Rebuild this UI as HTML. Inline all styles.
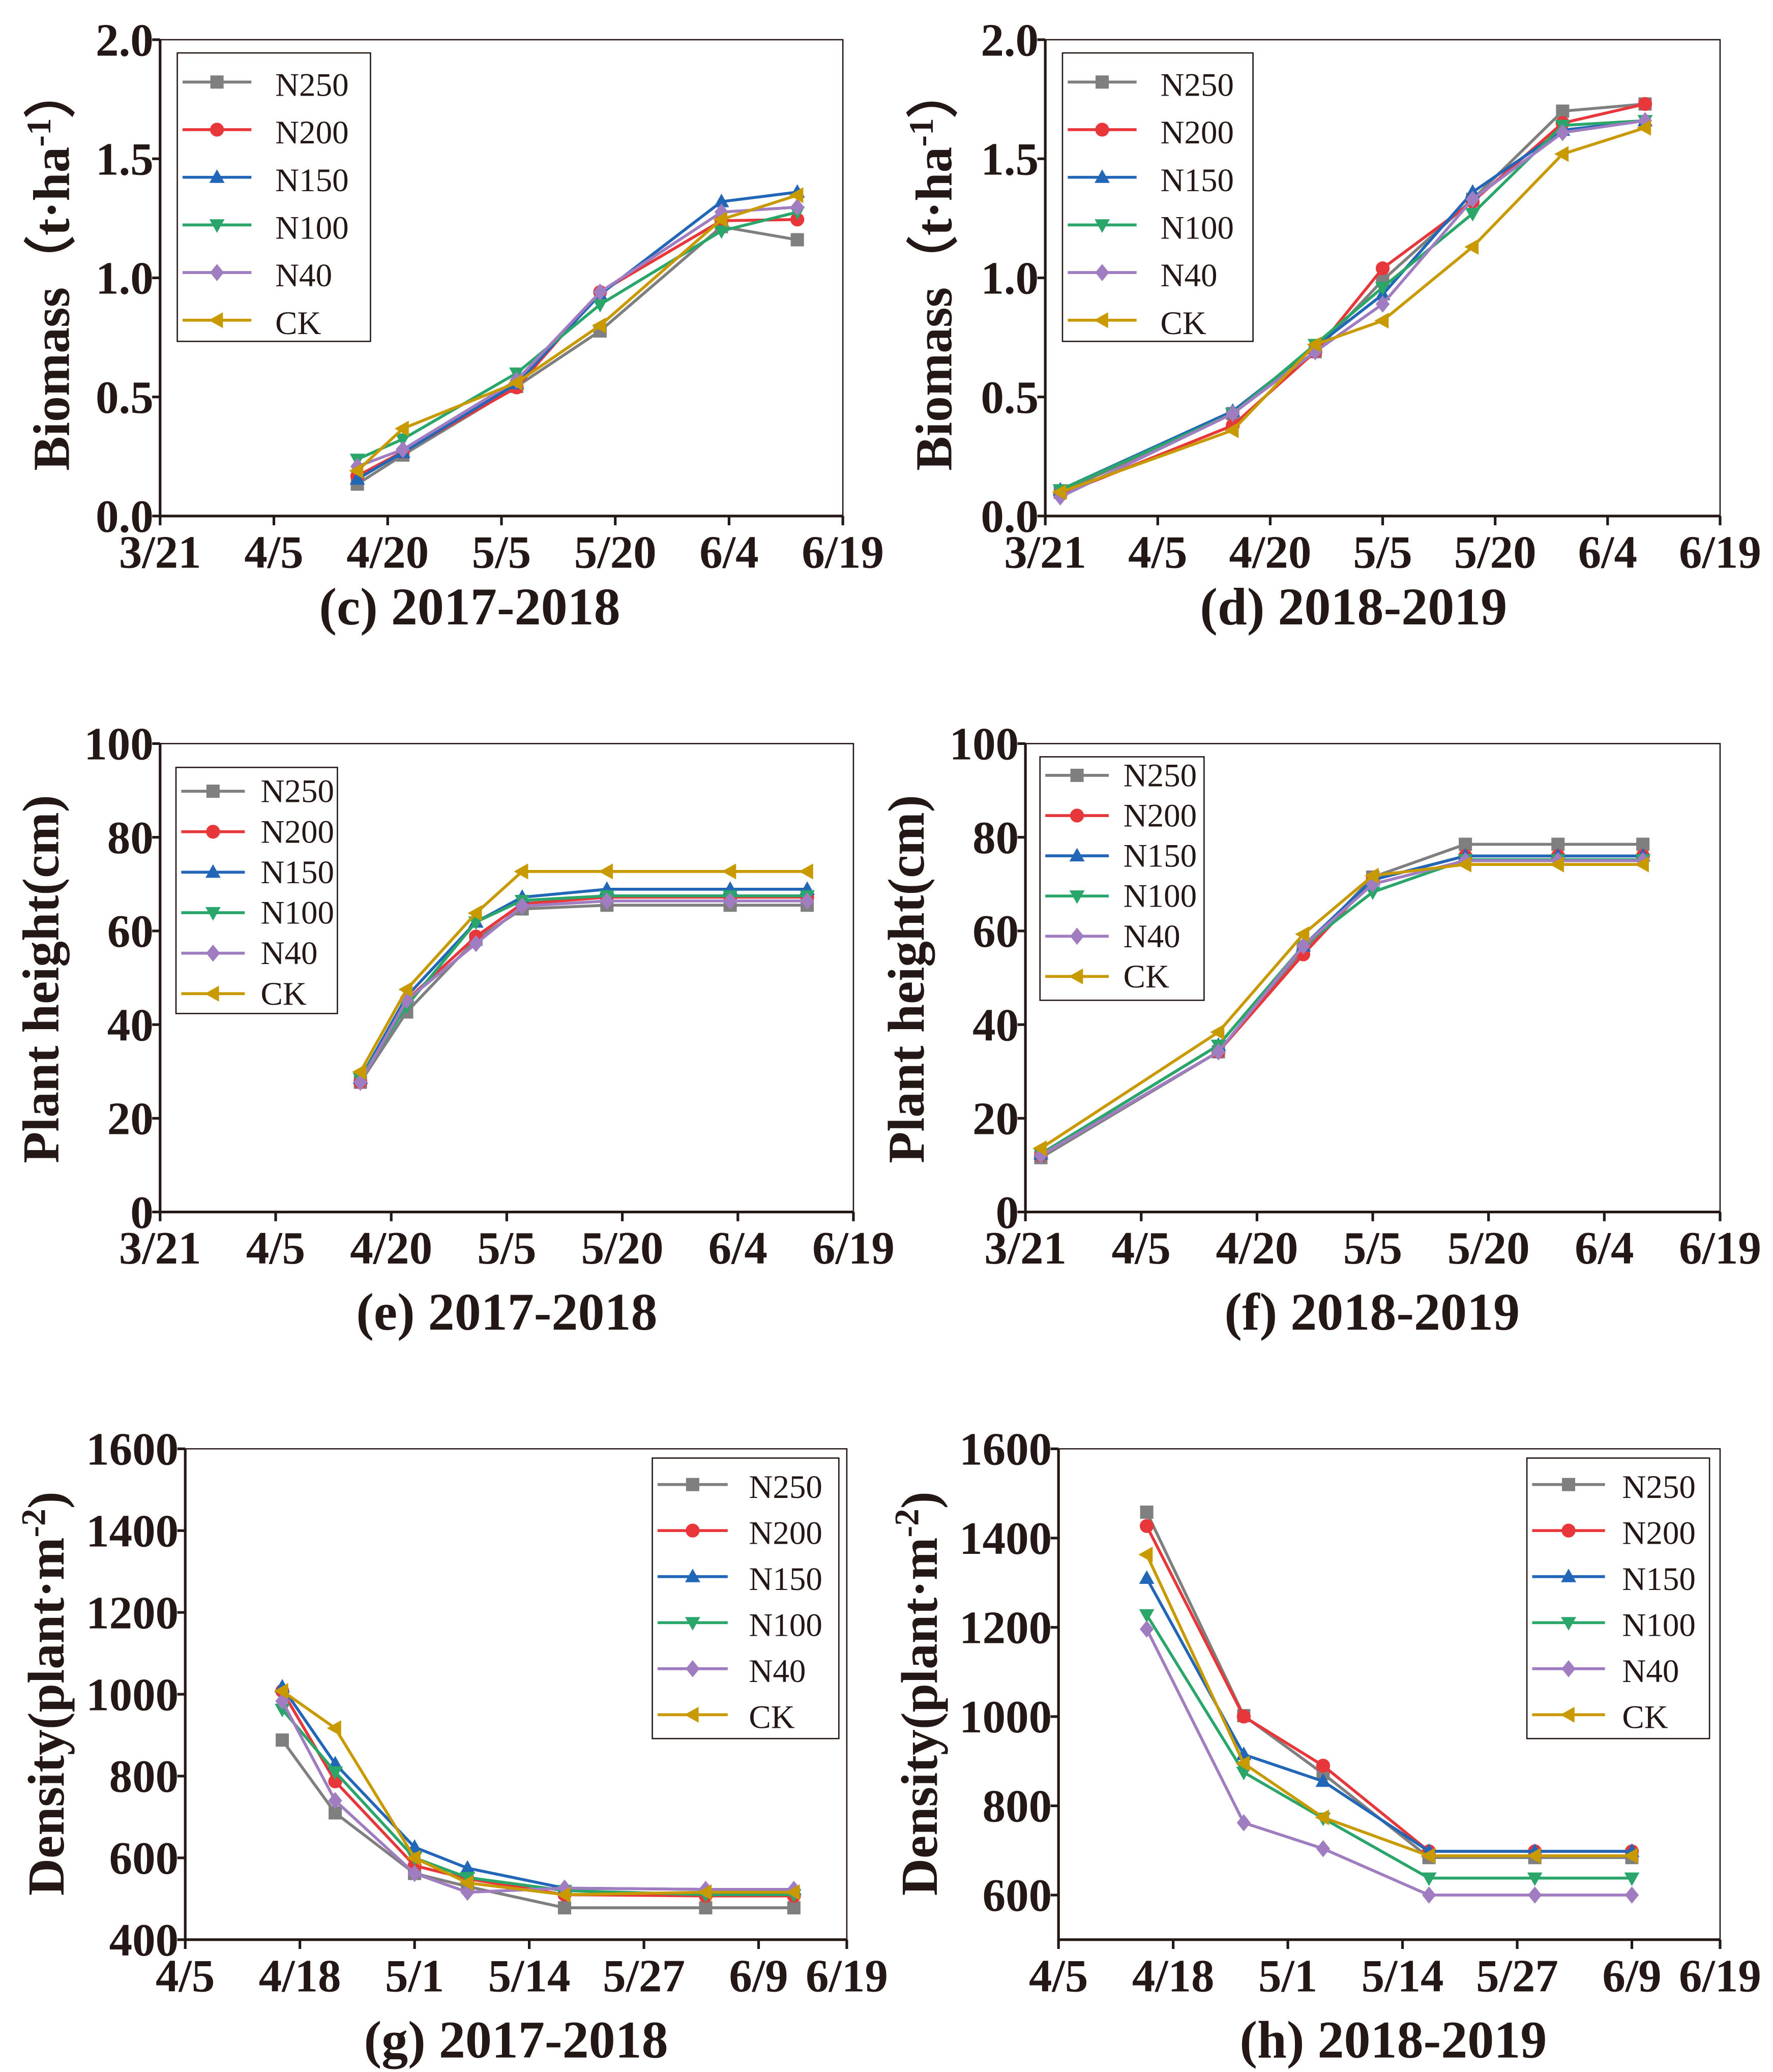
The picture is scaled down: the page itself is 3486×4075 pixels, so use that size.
<!DOCTYPE html>
<html><head><meta charset="utf-8">
<style>
html,body{margin:0;padding:0;background:#fff;}
svg{display:block;}
text{font-family:"Liberation Serif","Times New Roman",serif;fill:#231815;}
.tick{font-weight:bold;font-size:35px;}
.ttl{font-weight:bold;font-size:40px;}
.ytl{font-weight:bold;font-size:39px;}
.leg{font-size:25px;}
</style></head>
<body>
<svg id="fig" width="3486" height="4075" viewBox="0 0 1340 1566" preserveAspectRatio="none" xmlns="http://www.w3.org/2000/svg"></svg>
<script>
// ---- data ----
const seriesNames = ["N250","N200","N150","N100","N40","CK"];
const seriesColors = ["#7f7f7f","#e8373a","#2266b8","#2aa66a","#a07cc0","#c89a00"];
const markerShapes = ["square","circle","up","down","diamond","left"];

// (c) biomass 2017-2018, days since 3/21
const cDays = [26,32,47,58,74,84];
const cN250 = [0.134,0.256,0.544,0.777,1.215,1.16];
const cN200 = [0.168,0.27,0.54,0.94,1.24,1.245];
const cN150 = [0.155,0.267,0.556,0.93,1.32,1.36];
const cN100 = [0.238,0.323,0.6,0.888,1.197,1.276];
const cN40  = [0.208,0.279,0.57,0.94,1.276,1.297];
const cCK   = [0.19,0.367,0.56,0.8,1.245,1.347];
const cYTicks = [0,0.5,1.0,1.5,2.0];
const cYLabels = ["0.0","0.5","1.0","1.5","2.0"];

// (d) biomass 2018-2019
const dDays = [2,25,36,45,57,69,80];
const dN250 = [0.10,0.43,0.69,0.99,1.33,1.70,1.73];
const dN200 = [0.09,0.38,0.69,1.04,1.32,1.65,1.73];
const dN150 = [0.11,0.44,0.71,0.93,1.36,1.62,1.66];
const dN100 = [0.11,0.43,0.72,0.96,1.27,1.64,1.66];
const dN40  = [0.08,0.43,0.69,0.89,1.33,1.61,1.66];
const dCK   = [0.10,0.36,0.72,0.82,1.13,1.52,1.63];

const bioXTicks = [0,15,30,45,60,75,90];
const bioXLabels = ["3/21","4/5","4/20","5/5","5/20","6/4","6/19"];

// (e) plant height 2017-2018
const eDays = [26,32,41,47,58,74,84];
const eN250 = [27.7,42.7,58.2,64.7,65.5,65.5,65.5];
const eN200 = [27.7,45.2,58.8,65.8,67.2,67.2,67.2];
const eN150 = [28.5,46,61.9,67.2,68.9,68.9,68.9];
const eN100 = [28.5,44,61.9,66.5,67.5,67.5,67.5];
const eN40  = [27.7,45.2,57.3,65.3,66.4,66.4,66.4];
const eCK   = [29.9,47.5,63.8,72.7,72.7,72.7,72.7];
const hYTicks = [0,20,40,60,80,100];
const hYLabels = ["0","20","40","60","80","100"];

// (f) plant height 2018-2019
const fDays = [2,25,36,45,57,69,80];
const fN250 = [11.6,34.2,55.9,71.5,78.5,78.5,78.5];
const fN200 = [12.1,34.2,55.0,70.9,76.0,76.0,76.0];
const fN150 = [12.4,35.6,56.8,70.9,76.0,76.0,76.0];
const fN100 = [12.4,35.6,56.8,68.3,75.2,75.2,75.2];
const fN40  = [12.1,34.2,56.8,70.0,75.0,75.0,75.0];
const fCK   = [13.6,38.4,59.3,71.8,74.2,74.2,74.2];

// (g) density 2017-2018, days since 4/5
const gDays = [11,17,26,32,43,59,69];
const gN250 = [888,710,562,530,478,478,478];
const gN200 = [1008,787,581,549,510,507,507];
const gN150 = [1018,830,626,575,526,523,523];
const gN100 = [963,810,600,552,520,510,510];
const gN40  = [983,740,562,516,526,523,523];
const gCK   = [1008,917,600,539,510,516,516];
const gYTicks = [400,600,800,1000,1200,1400,1600];
const gYLabels = ["400","600","800","1000","1200","1400","1600"];

// (h) density 2018-2019
const hDays = [10,21,30,42,54,65];
const hN250 = [1458,1002,872,684,684,684];
const hN200 = [1427,1000,890,698,698,698];
const hN150 = [1310,915,855,698,698,698];
const hN100 = [1228,875,772,638,638,638];
const hN40  = [1196,762,704,600,600,600];
const hCK   = [1363,895,774,688,688,688];
const hhYTicks = [600,800,1000,1200,1400,1600];
const hhYLabels = ["600","800","1000","1200","1400","1600"];

const denXTicks = [0,13,26,39,52,65,75];
const denXLabels = ["4/5","4/18","5/1","5/14","5/27","6/9","6/19"];

// ---- drawing ----
const NS="http://www.w3.org/2000/svg";
const svg=document.getElementById('fig');
function mk(tag,attrs,parent){const e=document.createElementNS(NS,tag);for(const k in attrs)e.setAttribute(k,attrs[k]);(parent||svg).appendChild(e);return e;}

function marker(g,shape,x,y,r,color){
  let el;
  if(shape==="square") el=mk('rect',{x:x-r,y:y-r,width:2*r,height:2*r,fill:color},g);
  else if(shape==="circle") el=mk('circle',{cx:x,cy:y,r:r*1.05,fill:color},g);
  else if(shape==="up") el=mk('polygon',{points:`${x},${y-r*1.2} ${x-r*1.15},${y+r*0.85} ${x+r*1.15},${y+r*0.85}`,fill:color},g);
  else if(shape==="down") el=mk('polygon',{points:`${x},${y+r*1.2} ${x-r*1.15},${y-r*0.85} ${x+r*1.15},${y-r*0.85}`,fill:color},g);
  else if(shape==="diamond") el=mk('polygon',{points:`${x},${y-r*1.3} ${x+r*1.05},${y} ${x},${y+r*1.3} ${x-r*1.05},${y}`,fill:color},g);
  else el=mk('polygon',{points:`${x-r*1.25},${y} ${x+r*0.9},${y-r*1.2} ${x+r*0.9},${y+r*1.2}`,fill:color},g);
  
  
  return el;
}

function panel(cfg){
  const g=mk('g',{});
  
  
  const {x0,x1,y0,y1,dmin,dmax,vmin,vmax}=cfg;
  const sx=d=>x0+(d-dmin)/(dmax-dmin)*(x1-x0);
  const sy=v=>y0-(v-vmin)/(vmax-vmin)*(y0-y1);
  const fr=mk('path',{d:`M${x0},${y1} H${x1} V${y0}`,stroke:'#231815','stroke-width':1,fill:'none'},g);
  
  
  const ax=mk('path',{d:`M${x0},${y1} V${y0} H${x1}`,stroke:'#231815','stroke-width':2,fill:'none'},g);
  
  
  cfg.yt.forEach((v,i)=>{
    const y=sy(v);
    mk('line',{x1:x0-6,x2:x0,y1:y,y2:y,stroke:'#231815','stroke-width':2},g);
    const t=mk('text',{x:x0-5,y:y+12,'text-anchor':'end',class:'tick'},g);
    t.textContent=cfg.yl[i];
    
    
  });
  cfg.xt.forEach((d,i)=>{
    const x=sx(d);
    mk('line',{x1:x,x2:x,y1:y0,y2:y0+7,stroke:'#231815','stroke-width':2},g);
    const t=mk('text',{x:x,y:y0+39,'text-anchor':'middle',class:'tick'},g);
    t.textContent=cfg.xl[i];
    
    
  });
  cfg.series.forEach((vals,si)=>{
    const sg=mk('g',{},g);
    
    
    const pts=vals.map((v,i)=>sx(cfg.days[i])+','+sy(v)).join(' ');
    const pl=mk('polyline',{points:pts,fill:'none',stroke:seriesColors[si],'stroke-width':2.2},sg);
    
    
    vals.forEach((v,i)=>marker(sg,markerShapes[si],sx(cfg.days[i]),sy(v),5,seriesColors[si]));
  });
  const L=cfg.leg;
  const lg=mk('g',{},g);
  
  
  mk('rect',{x:L.x,y:L.y,width:L.w,height:L.h,fill:'#fff',stroke:'#231815','stroke-width':1},lg);
  seriesNames.forEach((n,i)=>{
    const yy=L.y+L.first+i*L.step;
    const eg=mk('g',{},lg);
    
    
    mk('line',{x1:L.x+4,x2:L.x+4+L.len,y1:yy,y2:yy,stroke:seriesColors[i],'stroke-width':2.2},eg);
    marker(eg,markerShapes[i],L.x+4+L.len/2,yy,5,seriesColors[i]);
    const t=mk('text',{x:L.x+L.tx,y:yy+L.fs*0.36,class:'leg','font-size':L.fs},eg);
    t.textContent=n;
  });
  const yt=mk('text',{x:0,y:0,transform:`translate(${cfg.ytx},${cfg.yty}) rotate(-90)`,'text-anchor':'middle',class:'ytl'},g);
  
  
  yt.innerHTML=cfg.ytitle;
  const pt=mk('text',{x:cfg.ptx,y:cfg.pty,'text-anchor':'middle',class:'ttl'},g);
  
  
  pt.textContent=cfg.title;
}

const bioTitle='Biomass（t·ha<tspan dy="-14" font-size="26">-1</tspan><tspan dy="14">）</tspan>';
const denTitle='Density(plant·m<tspan dy="-14" font-size="26">-2</tspan><tspan dy="14">)</tspan>';

panel({name:'panel-c-biomass-2017-2018',x0:121,x1:637,y0:390,y1:30,dmin:0,dmax:90,vmin:0,vmax:2,
  yt:cYTicks,yl:cYLabels,xt:bioXTicks,xl:bioXLabels,days:cDays,series:[cN250,cN200,cN150,cN100,cN40,cCK],
  leg:{x:134,y:40,w:146,h:218,first:22,step:36,len:52,tx:74,fs:29},
  ytitle:bioTitle,ytx:52,yty:203,title:'(c) 2017-2018',ptx:355,pty:472});
panel({name:'panel-d-biomass-2018-2019',x0:790,x1:1300,y0:390,y1:30,dmin:0,dmax:90,vmin:0,vmax:2,
  yt:cYTicks,yl:cYLabels,xt:bioXTicks,xl:bioXLabels,days:dDays,series:[dN250,dN200,dN150,dN100,dN40,dCK],
  leg:{x:803,y:40,w:144,h:218,first:22,step:36,len:52,tx:74,fs:29},
  ytitle:bioTitle,ytx:719,yty:203,title:'(d) 2018-2019',ptx:1023,pty:472});
panel({name:'panel-e-height-2017-2018',x0:121,x1:645,y0:916,y1:562,dmin:0,dmax:90,vmin:0,vmax:100,
  yt:hYTicks,yl:hYLabels,xt:bioXTicks,xl:bioXLabels,days:eDays,series:[eN250,eN200,eN150,eN100,eN40,eCK],
  leg:{x:133,y:580,w:122,h:186,first:18,step:30.6,len:48,tx:64,fs:23},
  ytitle:'Plant height(cm)',ytx:44,yty:740,title:'(e) 2017-2018',ptx:383,pty:1005});
panel({name:'panel-f-height-2018-2019',x0:775,x1:1300,y0:916,y1:562,dmin:0,dmax:90,vmin:0,vmax:100,
  yt:hYTicks,yl:hYLabels,xt:bioXTicks,xl:bioXLabels,days:fDays,series:[fN250,fN200,fN150,fN100,fN40,fCK],
  leg:{x:786,y:572,w:124,h:184,first:14,step:30.4,len:48,tx:63,fs:23},
  ytitle:'Plant height(cm)',ytx:698,yty:740,title:'(f) 2018-2019',ptx:1037,pty:1005});
panel({name:'panel-g-density-2017-2018',x0:140,x1:640,y0:1466,y1:1095,dmin:0,dmax:75,vmin:400,vmax:1600,
  yt:gYTicks,yl:gYLabels,xt:denXTicks,xl:denXLabels,days:gDays,series:[gN250,gN200,gN150,gN100,gN40,gCK],
  leg:{x:493,y:1102,w:141,h:212,first:20,step:34.8,len:53,tx:73,fs:28},
  ytitle:denTitle,ytx:48,yty:1280,title:'(g) 2017-2018',ptx:390,pty:1555});
panel({name:'panel-h-density-2018-2019',x0:800,x1:1300,y0:1466,y1:1095,dmin:0,dmax:75,vmin:500,vmax:1600,
  yt:hhYTicks,yl:hhYLabels,xt:denXTicks,xl:denXLabels,days:hDays,series:[hN250,hN200,hN150,hN100,hN40,hCK],
  leg:{x:1154,y:1102,w:138,h:212,first:20,step:34.8,len:55,tx:72,fs:28},
  ytitle:denTitle,ytx:708,yty:1280,title:'(h) 2018-2019',ptx:1053,pty:1555});
</script>
</body></html>
